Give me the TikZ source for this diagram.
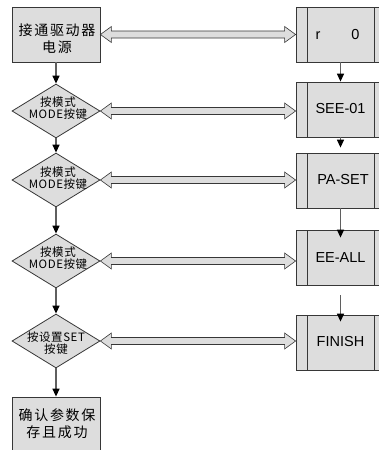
\documentclass[tikz,border=0pt]{standalone}
\usepackage{fontspec}
\newfontfamily\cjk[LetterSpace=5]{Noto Sans CJK SC}
\newfontfamily\cjkw[LetterSpace=12]{Noto Sans CJK SC}
\newfontfamily\arl{Liberation Sans}
\usetikzlibrary{arrows.meta,shapes.geometric,calc}
\definecolor{boxfill}{RGB}{221,221,221}
\definecolor{edge}{RGB}{55,55,55}
\definecolor{shaft}{RGB}{95,95,95}
\newcommand\dbl[2]{\draw[harrow] let \p1=(#1), \p2=(#2) in
  (\x1,\y1) -- (\x1+11pt,\y1+8pt) -- (\x1+11pt,\y1+3.5pt) -- (\x2-11pt,\y1+3.5pt)
  -- (\x2-11pt,\y1+8pt) -- (\x2,\y1) -- (\x2-11pt,\y1-8pt) -- (\x2-11pt,\y1-3.5pt)
  -- (\x1+11pt,\y1-3.5pt) -- (\x1+11pt,\y1-8pt) -- cycle;}
\begin{document}
\begin{tikzpicture}[x=1pt,y=-1pt,
  lbox/.style={draw=edge,fill=boxfill,line width=0.8pt,minimum width=88pt,minimum height=55pt,inner sep=0pt},
  dia/.style={diamond,draw=edge,fill=boxfill,line width=0.8pt,minimum width=88pt,minimum height=54pt,inner sep=0pt},
  rbox/.style={draw=edge,fill=boxfill,line width=0.8pt,minimum width=89pt,minimum height=55pt,inner sep=0pt,
    path picture={
      \draw[edge,line width=0.8pt] ([xshift=11pt]path picture bounding box.north west) -- ([xshift=11pt]path picture bounding box.south west);
      \draw[edge,line width=0.8pt] ([xshift=-11pt]path picture bounding box.north east) -- ([xshift=-11pt]path picture bounding box.south east);}},
  ltext/.style={align=center,inner sep=0pt,font=\cjkw\fontsize{14}{17}\selectfont},
  dtext/.style={align=center,inner sep=0pt,font=\cjk\fontsize{11.5}{12.5}\selectfont},
  rtext/.style={inner sep=0pt,font=\arl\fontsize{14.5}{17}\selectfont},
  harrow/.style={draw=edge,fill=boxfill,line width=0.6pt,line join=miter},
  varrow/.style={draw=shaft,line width=1.3pt,-{Triangle[width=7pt,length=8pt,color=black]}}]
\useasboundingbox (0,0) rectangle (379,450);
\fill[white] (0,0) rectangle (379,450);
\clip (0,0) rectangle (379,450);

% left column
\node[lbox] (s1) at (56,34.5) {};
\node[ltext] (s1t) at (57,38.5) {接通驱动器\\电源};
\node[dia] (d1) at (56,111) {};
\node[dtext] (d1t) at (58,108) {按模式\\MODE按键};
\node[dia] (d2) at (56,180) {};
\node[dtext] (d2t) at (58,178) {按模式\\MODE按键};
\node[dia] (d3) at (56,261) {};
\node[dtext] (d3t) at (58,258) {按模式\\MODE按键};
\node[dia] (d4) at (56,341) {};
\node[dtext] (d4t) at (56,343) {按设置SET\\按键};
\node[lbox,minimum height=66pt] (s2) at (56,430) {};
\node[ltext] (s2t) at (57,423.5) {确认参数保\\存且成功};

% right column
\node[rbox] (r1) at (340.5,34.5) {};
\node[rtext] (r1t) at (337.5,35) {r\hspace{31pt}0};
\node[rbox] (r2) at (340.5,109.5) {};
\node[rtext] (r2t) at (340.5,109) {SEE-01};
\node[rbox] (r3) at (340.5,180.5) {};
\node[rtext] (r3t) at (343,180) {PA-SET};
\node[rbox] (r4) at (340.5,257.5) {};
\node[rtext] (r4t) at (340.5,258) {EE-ALL};
\node[rbox] (r5) at (340.5,342.5) {};
\node[rtext] (r5t) at (340.5,342) {FINISH};

% vertical arrows
\draw[varrow] (s1.south) -- (d1.north);
\draw[varrow] (d1.south) -- (d2.north);
\draw[varrow] (d2.south) -- (d3.north);
\draw[varrow] (d3.south) -- (d4.north);
\draw[varrow] (d4.south) -- (s2.north);
\draw[varrow] (r1.south) -- (r2.north);
\draw[varrow] (r2.south) -- ([yshift=5pt]r3.north);
\draw[varrow] (r3.south) -- ([yshift=-8pt]r4.north);
\draw[varrow] ([yshift=-10pt]r4.south) -- ([yshift=-7pt]r5.north);

% double arrows
\dbl{s1.east}{r1.west}
\dbl{d1.east}{r2.west}
\dbl{d2.east}{r3.west}
\dbl{d3.east}{r4.west}
\dbl{d4.east}{r5.west}
\end{tikzpicture}
\end{document}
